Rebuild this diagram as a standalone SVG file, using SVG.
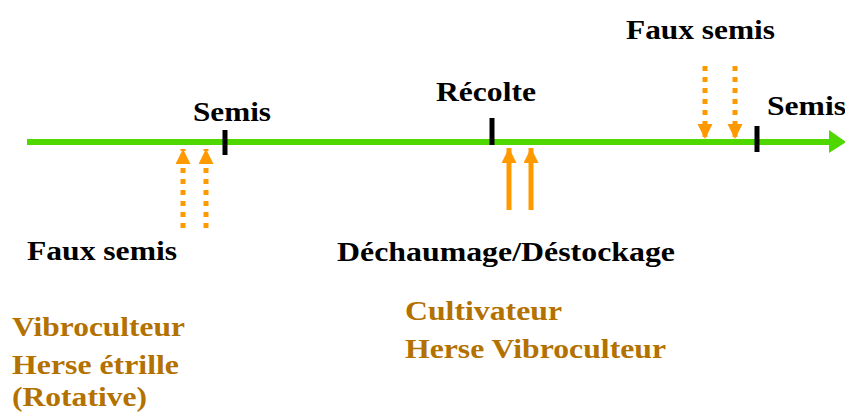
<svg xmlns="http://www.w3.org/2000/svg" width="845" height="416" viewBox="0 0 845 416">
  <defs>
    <marker id="head" markerUnits="userSpaceOnUse" markerWidth="16" markerHeight="16" refX="15" refY="7.5" orient="auto">
      <path d="M0,0 L15,7.5 L0,15 Z" fill="#FF9900"/>
    </marker>
  </defs>
  <style>
    .lbl { font-family: "Liberation Serif", "Times New Roman", serif; font-weight: bold; font-size: 28px; fill: #000; }
    .tool { fill: #B37100; }
    .tick { stroke: #000; stroke-width: 5; }
    .dotted { stroke: #FF9900; stroke-width: 5; stroke-dasharray: 5 6; fill: none; }
    .solid { stroke: #FF9900; stroke-width: 5; fill: none; }
  </style>

  <!-- timeline -->
  <g id="timeline">
    <line x1="27" y1="142" x2="832" y2="142" stroke="#4FD800" stroke-width="6"/>
    <path d="M829,130 L846,142 L829,153 Z" fill="#4FD800"/>
    <line class="tick" x1="225" y1="130" x2="225" y2="155"/>
    <line class="tick" x1="492" y1="118" x2="492" y2="145"/>
    <line class="tick" x1="757" y1="126" x2="757" y2="152"/>
  </g>

  <!-- interventions -->
  <g id="connectors">
    <line class="dotted" x1="183" y1="228" x2="183" y2="149" marker-end="url(#head)"/>
    <line class="dotted" x1="206" y1="228" x2="206" y2="149" marker-end="url(#head)"/>
    <line class="solid" x1="509" y1="210" x2="509" y2="148" marker-end="url(#head)"/>
    <line class="solid" x1="531" y1="210" x2="531" y2="148" marker-end="url(#head)"/>
    <line class="dotted" x1="705" y1="66" x2="705" y2="139" marker-end="url(#head)"/>
    <line class="dotted" x1="735" y1="66" x2="735" y2="139" marker-end="url(#head)"/>
  </g>

  <g id="semis-1"><text class="lbl" x="193" y="121" textLength="78" lengthAdjust="spacingAndGlyphs">Semis</text></g>
  <g id="recolte"><text class="lbl" x="436" y="101" textLength="100" lengthAdjust="spacingAndGlyphs">Récolte</text></g>
  <g id="faux-semis-2"><text class="lbl" x="626" y="39" textLength="149" lengthAdjust="spacingAndGlyphs">Faux semis</text></g>
  <g id="semis-2"><text class="lbl" x="767" y="115" textLength="79" lengthAdjust="spacingAndGlyphs">Semis</text></g>
  <g id="faux-semis-1"><text class="lbl" x="27" y="260" textLength="150" lengthAdjust="spacingAndGlyphs">Faux semis</text></g>
  <g id="dechaumage"><text class="lbl" x="337" y="261" textLength="338" lengthAdjust="spacingAndGlyphs">Déchaumage/Déstockage</text></g>

  <g id="outils-faux-semis">
    <text class="lbl tool" x="12" y="336" textLength="173" lengthAdjust="spacingAndGlyphs">Vibroculteur</text>
    <text class="lbl tool" x="12" y="374" textLength="167" lengthAdjust="spacingAndGlyphs">Herse étrille</text>
    <text class="lbl tool" x="12" y="406" textLength="135" lengthAdjust="spacingAndGlyphs">(Rotative)</text>
  </g>
  <g id="outils-dechaumage">
    <text class="lbl tool" x="405" y="320" textLength="157" lengthAdjust="spacingAndGlyphs">Cultivateur</text>
    <text class="lbl tool" x="405" y="358" textLength="261" lengthAdjust="spacingAndGlyphs">Herse Vibroculteur</text>
  </g>
</svg>
